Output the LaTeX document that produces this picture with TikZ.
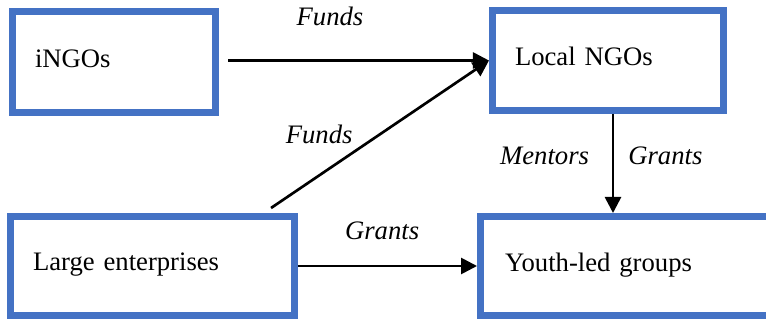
\documentclass[tikz,border=0pt]{standalone}
\usepackage{fontspec}
\setmainfont{Liberation Serif}
\usepackage{xcolor}
\usetikzlibrary{arrows.meta}
\definecolor{boxblue}{HTML}{4472C4}

\begin{document}
\begin{tikzpicture}[x=0.75pt, y=-0.75pt,
    box/.style={draw=boxblue, line width=5.25pt, align=left, inner xsep=16.9pt,
      text depth=6pt, font=\fontsize{20}{24}\selectfont},
    flow/.style={-{Triangle[length=12pt,width=12pt]}, line width=2pt},
    lbl/.style={inner sep=0pt, font=\fontsize{20}{24}\selectfont\itshape}]
    \useasboundingbox (0,0) rectangle (766,320);

    % Draw boxes
    \node[box, minimum width=152.25pt, minimum height=75.75pt, text width=118.5pt] (ingos) at (114,62.5) {iNGOs};
    \node[box, minimum width=173.25pt, minimum height=75pt, text width=139.5pt] (lngo) at (608,60.5) {Local NGOs};
    \node[box, minimum width=213pt, minimum height=74.25pt, text width=179.25pt] (large) at (152.5,266) {Large enterprises};
    \node[box, inner xsep=18.4pt, minimum width=218.6pt, minimum height=74.25pt, text width=181.8pt] (youth) at (626.25,266) {Youth-led groups};

    % Draw flows
    \draw[flow] ([xshift=7pt]ingos.east |- lngo.west) -- (lngo.west)
      node[lbl, pos=0.39, above=25pt] {Funds};
    \draw[flow] ([shift={(-27,-5)}]large.north east) -- (lngo.west)
      node[lbl, pos=0.38, anchor=south east, yshift=5pt] {Funds};
    \draw[flow] ([xshift=3.75pt]lngo.south) -- ([xshift=3.75pt]lngo.south |- youth.north)
      node[lbl, pos=0.42, left=17pt] {Mentors}
      node[lbl, pos=0.42, right=10.5pt] {Grants};
    \draw[flow] (large.east) -- (youth.west)
      node[lbl, pos=0.47, above=18.75pt] {Grants};
\end{tikzpicture}
\end{document}
